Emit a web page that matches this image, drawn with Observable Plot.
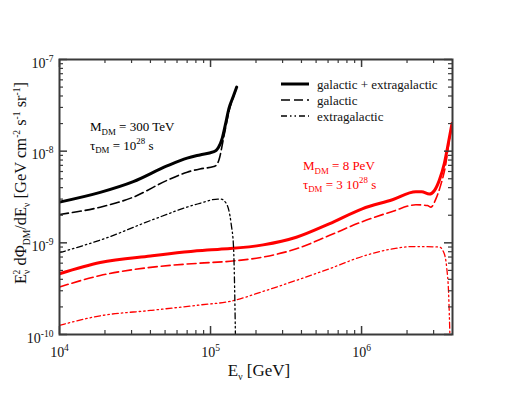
<!DOCTYPE html>
<html><head><meta charset="utf-8">
<script src="https://cdn.jsdelivr.net/npm/d3@7"></script>
<script src="https://cdn.jsdelivr.net/npm/@observablehq/plot@0.6"></script>
<style>
body{margin:0;background:#fff}
#chart svg{font-family:"Liberation Serif","Times New Roman",serif;background:#fff}
</style>
</head><body><div id="chart"></div>
<script>
// ---- tick values ----
const xMajor = [1e4, 1e5, 1e6];
const xMinor = [2e4,3e4,4e4,5e4,6e4,7e4,8e4,9e4, 2e5,3e5,4e5,5e5,6e5,7e5,8e5,9e5, 2e6,3e6];
const xTickLabels = ["10^{4}", "10^{5}", "10^{6}"];
const yMajor = [1e-10, 1e-9, 1e-8, 1e-7];
const yMinor = [2e-10,3e-10,4e-10,5e-10,6e-10,7e-10,8e-10,9e-10,
                2e-9,3e-9,4e-9,5e-9,6e-9,7e-9,8e-9,9e-9,
                2e-8,3e-8,4e-8,5e-8,6e-8,7e-8,8e-8,9e-8];
const yTickLabels = ["10^{-10}", "10^{-9}", "10^{-8}", "10^{-7}"];

// ---- series: [E (GeV), E^2 dPhi/dE] ----
// M_DM = 300 TeV
const blackTotal = [[1e4,2.78e-9],[1.86e4,3.55e-9],[3.08e4,4.65e-9],[5.15e4,6.9e-9],[7e4,8.4e-9],[8.5e4,9.1e-9],
  [1.04e5,9.8e-9],[1.09e5,1.02e-8],[1.13e5,1.1e-8],[1.19e5,1.35e-8],[1.25e5,1.9e-8],[1.33e5,3.0e-8],[1.41e5,3.9e-8],[1.49e5,5.0e-8]];
const blackGal = [[1e4,2.04e-9],[1.86e4,2.45e-9],[3.08e4,3.15e-9],[5.15e4,4.8e-9],[7e4,5.9e-9],[8.5e4,6.4e-9],
  [1.05e5,6.8e-9],[1.1e5,7.1e-9],[1.15e5,8.6e-9],[1.21e5,1.3e-8],[1.25e5,1.7e-8],[1.33e5,2.8e-8],[1.41e5,3.8e-8],[1.49e5,4.95e-8]];
const blackExtra = [[1e4,7.8e-10],[2.07e4,1.14e-9],[4e4,1.75e-9],[8.5e4,2.7e-9],[1.12e5,3.0e-9],[1.17e5,3.0e-9],
  [1.27e5,2.7e-9],[1.37e5,1.6e-9],[1.42e5,9e-10],[1.445e5,3e-10],[1.47e5,5e-11]];
// M_DM = 8 PeV
const redTotal = [[1e4,4.6e-10],[1.86e4,6.1e-10],[4e4,7.2e-10],[9.5e4,8.35e-10],[1.35e5,8.65e-10],[2.23e5,9.5e-10],
  [3.7e5,1.15e-9],[6.1e5,1.61e-9],[1.01e6,2.35e-9],[1.6e6,2.95e-9],[2.29e6,3.6e-9],[2.5e6,3.6e-9],[2.81e6,3.4e-9],
  [3.03e6,3.7e-9],[3.27e6,4.8e-9],[3.53e6,7.3e-9],[3.71e6,1.1e-8],[3.97e6,2.0e-8]];
const redGal = [[1e4,3.3e-10],[1.86e4,4.4e-10],[4e4,5.4e-10],[8.5e4,6.0e-10],[1.35e5,6.3e-10],[2.23e5,7.0e-10],
  [3.7e5,8.6e-10],[6.1e5,1.2e-9],[1.01e6,1.7e-9],[1.6e6,2.2e-9],[2.29e6,2.6e-9],[2.73e6,2.55e-9],[2.88e6,2.45e-9],
  [3.1e6,3.0e-9],[3.36e6,4.4e-9],[3.6e6,7e-9],[3.75e6,1.1e-8],[3.97e6,1.95e-8]];
const redExtra = [[1e4,1.26e-10],[1.86e4,1.6e-10],[4e4,1.83e-10],[8.5e4,2.1e-10],[1.35e5,2.3e-10],[2.23e5,2.95e-10],
  [3.7e5,3.9e-10],[6.1e5,5.2e-10],[1.01e6,7.1e-10],[1.6e6,8.6e-10],[2.17e6,9.1e-10],[3.27e6,9.0e-10],
  [3.53e6,7.6e-10],[3.66e6,5.4e-10],[3.77e6,2.8e-10],[3.85e6,9e-11]];

// ---- text ----
const legendLabels = ["galactic + extragalactic", "galactic", "extragalactic"];
const blackNote = ["M_{DM} = 300 TeV", "τ_{DM} = 10^{28} s"];
const redNote = ["M_{DM} = 8 PeV", "τ_{DM} = 3 10^{28} s"];
const xLabel = "E_{ν} [GeV]";
const yLabel = "E_{ν}^{2} dΦ_{DM}/dE_{ν} [GeV cm^{-2} s^{-1} sr^{-1}]";

const W = 510, H = 394, mT = 59, mR = 58, mB = 60, mL = 59;
const iw = W - mL - mR, ih = H - mT - mB;
const frameColor = "#3a3a3a";
const DASH = "9,4", DASHDOT = "6,3,1.5,3,1.5,3";

const line = (data, stroke, sw, dash) => Plot.line(data, {x: d => d[0], y: d => d[1], stroke, strokeWidth: sw,
  strokeDasharray: dash, curve: "monotone-x", clip: true});

const plot = Plot.plot({
  width: W, height: H, marginTop: mT, marginRight: mR, marginBottom: mB, marginLeft: mL,
  x: {type: "log", domain: [1e4, 4e6], axis: null},
  y: {type: "log", domain: [1e-10, 1e-7], axis: null},
  style: {fontFamily: "'Liberation Serif', 'Times New Roman', serif", background: "#fff"},
  marks: [
    line(redExtra, "#ff0000", 1.3, DASHDOT),
    line(redGal, "#ff0000", 1.6, DASH),
    line(redTotal, "#ff0000", 3, null),
    line(blackExtra, "#000", 1.3, DASHDOT),
    line(blackGal, "#000", 1.6, DASH),
    line(blackTotal, "#000", 3, null),
    // ticks inward on all sides
    Plot.tickX(xMajor, {x: d => d, insetTop: ih - 8, stroke: frameColor, strokeWidth: 1.5}),
    Plot.tickX(xMajor, {x: d => d, insetBottom: ih - 8, stroke: frameColor, strokeWidth: 1.5}),
    Plot.tickX(xMinor, {x: d => d, insetTop: ih - 4, stroke: frameColor, strokeWidth: 1.2}),
    Plot.tickX(xMinor, {x: d => d, insetBottom: ih - 4, stroke: frameColor, strokeWidth: 1.2}),
    Plot.tickY(yMajor, {y: d => d, insetRight: iw - 8, stroke: frameColor, strokeWidth: 1.5}),
    Plot.tickY(yMajor, {y: d => d, insetLeft: iw - 8, stroke: frameColor, strokeWidth: 1.5}),
    Plot.tickY(yMinor, {y: d => d, insetRight: iw - 4, stroke: frameColor, strokeWidth: 1.2}),
    Plot.tickY(yMinor, {y: d => d, insetLeft: iw - 4, stroke: frameColor, strokeWidth: 1.2}),
    Plot.frame({stroke: frameColor, strokeWidth: 2}),
    // tick labels
    Plot.text(xMajor, {x: d => d, text: (d, i) => xTickLabels[i], frameAnchor: "bottom", lineAnchor: "bottom",
      textAnchor: "middle", dy: 22, fontSize: 14, fill: "#111"}),
    Plot.text(yMajor, {y: d => d, text: (d, i) => yTickLabels[i], frameAnchor: "left", lineAnchor: "bottom",
      dx: -6, dy: 8, textAnchor: "end", fontSize: 14, fill: "#111"}),
    // axis labels
    Plot.text([xLabel], {frameAnchor: "bottom", lineAnchor: "bottom", textAnchor: "middle", dy: 41, dx: 3, fontSize: 17, fill: "#111"}),
    Plot.text([yLabel], {frameAnchor: "left", lineAnchor: "bottom", textAnchor: "middle", rotate: -90, dx: -34, dy: -14, fontSize: 16.5, fill: "#111"})
  ]
});

// ---- rich text (sub/superscripts) ----
function rich(el) {
  const str = el.textContent;
  if (!/[_^]\{/.test(str)) return;
  const size = parseFloat(el.getAttribute("font-size") || getComputedStyle(el).fontSize) || 14;
  el.textContent = "";
  const re = /([_^])\{([^}]*)\}|([^_^]+)/g;
  let m, shift = 0, prevSub = null;
  while ((m = re.exec(str))) {
    const t = document.createElementNS("http://www.w3.org/2000/svg", "tspan");
    if (m[3] !== undefined) {
      t.textContent = m[3];
      t.setAttribute("dy", (0 - shift).toFixed(2));
      shift = 0; prevSub = null;
    } else {
      const small = size * 0.68;
      const target = m[1] === "_" ? size * 0.3 : -size * 0.42;
      t.textContent = m[2];
      t.setAttribute("font-size", small.toFixed(2));
      t.setAttribute("dy", (target - shift).toFixed(2));
      if (m[1] === "^" && prevSub) {
        t.setAttribute("dx", (-prevSub.length * 0.5 * small).toFixed(2));
      }
      prevSub = m[1] === "_" ? m[2] : null;
      shift = target;
    }
    el.appendChild(t);
  }
}

const svg = d3.select(plot);
svg.selectAll("text").each(function () { rich(this); });

// ---- annotations ----
function note(lines, x0, y0, color) {
  lines.forEach((s, i) => {
    const t = svg.append("text").attr("x", x0).attr("y", y0 + i * 18.5).attr("text-anchor", "start")
      .attr("font-size", 13).attr("fill", color).text(s);
    rich(t.node());
  });
}
note(blackNote, mL + 31, mT + 72, "#000");
note(redNote, mL + 244, mT + 111, "#ff0000");

// ---- legend ----
const lg = svg.append("g");
const styles = [{w: 3, d: null}, {w: 1.6, d: DASH}, {w: 1.3, d: DASHDOT}];
legendLabels.forEach((s, i) => {
  const y = mT + 25 + i * 16;
  lg.append("line").attr("x1", mL + 222).attr("x2", mL + 250).attr("y1", y).attr("y2", y)
    .attr("stroke", "#000").attr("stroke-width", styles[i].w).attr("stroke-dasharray", styles[i].d);
  lg.append("text").attr("x", mL + 258).attr("y", y + 4.5).attr("text-anchor", "start")
    .attr("font-size", 13).attr("fill", "#111").text(s);
});

document.getElementById("chart").appendChild(plot);
</script>
</body></html>
